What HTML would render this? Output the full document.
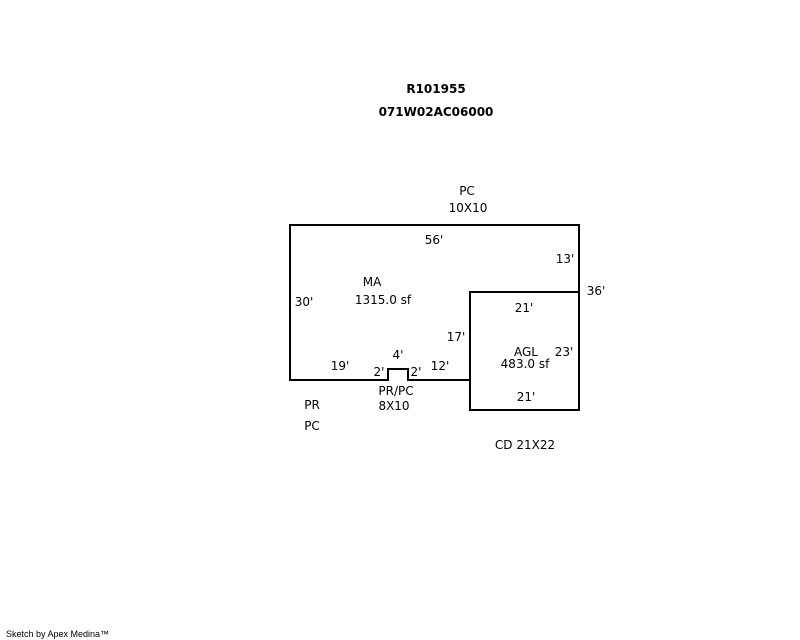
<!DOCTYPE html>
<html><head><style>body{margin:0;background:#fff}svg{display:block}</style></head><body>
<svg width="800" height="640" xmlns="http://www.w3.org/2000/svg" font-family="DejaVu Sans, Verdana, sans-serif" font-size="12" fill="#000">
<g fill="none" stroke="#000" stroke-width="2">
<path d="M290,225 H579 V292 H470 V380 H408 V369 H388 V380 H290 Z"/>
<rect x="470" y="292" width="109" height="118"/>
</g>
<g font-weight="bold" text-anchor="middle" font-size="12">
<text x="436" y="93">R101955</text>
<text x="436" y="116">071W02AC06000</text>
</g>
<g text-anchor="middle">
<text x="467" y="195">PC</text>
<text x="468" y="212">10X10</text>
<text x="434" y="244">56'</text>
<text x="565" y="263">13'</text>
<text x="596" y="295">36'</text>
<text x="372" y="286">MA</text>
<text x="383" y="304">1315.0 sf</text>
<text x="304" y="306">30'</text>
<text x="524" y="312">21'</text>
<text x="456" y="341">17'</text>
<text x="398" y="359">4'</text>
<text x="526" y="356">AGL</text>
<text x="564" y="356">23'</text>
<text x="525" y="368">483.0 sf</text>
<text x="340" y="370">19'</text>
<text x="379" y="376">2'</text>
<text x="416" y="376">2'</text>
<text x="440" y="370">12'</text>
<text x="396" y="395">PR/PC</text>
<text x="394" y="410">8X10</text>
<text x="312" y="409">PR</text>
<text x="312" y="430">PC</text>
<text x="526" y="401">21'</text>
<text x="525" y="449">CD 21X22</text>
</g>
<text x="6" y="637" font-size="9" font-family="Liberation Sans, sans-serif">Sketch by Apex Medina™</text>
</svg>
</body></html>
